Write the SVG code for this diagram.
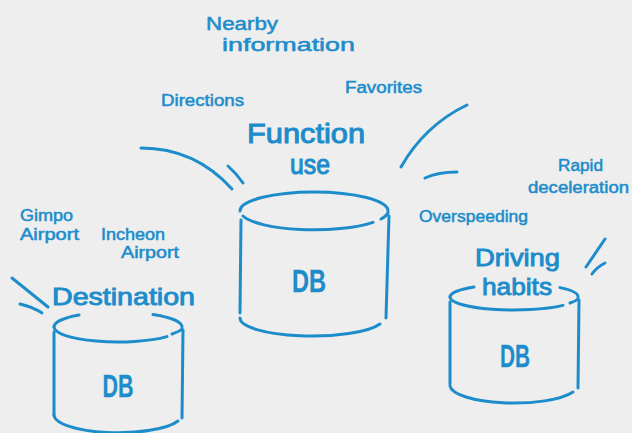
<svg xmlns="http://www.w3.org/2000/svg" width="632" height="433" viewBox="0 0 632 433">
<style>
.s{fill:none;stroke:#1C8CCB;stroke-width:3;stroke-linecap:round}
text{font-family:"Liberation Sans","DejaVu Sans",sans-serif;fill:#1C8CCB;stroke:#1C8CCB;stroke-width:0.5}
.t{font-size:16px}
.h{font-size:24px;stroke-width:0.9}
.big{font-size:28px;stroke-width:1}
.db{font-size:31px;font-weight:bold;stroke-width:0.3}
</style>
<rect width="632" height="433" fill="#EEEEEE"/>
<g id="connectors">
<path class="s" d="M141,148 Q195,148 232,189"/>
<path class="s" d="M228,166 Q237,174 243,183"/>
<path class="s" d="M467,105 Q425,125 401,167"/>
<path class="s" d="M425,178 Q438,172 457,172"/>
<path class="s" d="M12,278 L48,307"/>
<path class="s" d="M20,304 Q33,307 42,313"/>
<path class="s" d="M605,239 L586,267"/>
<path class="s" d="M605,263 Q597,267 592,274"/>
</g>
<g id="labels">
<text class="t" x="206" y="30" textLength="72" lengthAdjust="spacingAndGlyphs" style="font-size:18px">Nearby</text>
<text class="t" x="222" y="51" textLength="133" lengthAdjust="spacingAndGlyphs" style="font-size:18px">information</text>
<text class="t" x="161" y="106" textLength="83" lengthAdjust="spacingAndGlyphs">Directions</text>
<text class="t" x="345" y="93" textLength="77" lengthAdjust="spacingAndGlyphs">Favorites</text>
<text class="t" x="558" y="171" textLength="45" lengthAdjust="spacingAndGlyphs">Rapid</text>
<text class="t" x="528" y="193" textLength="101" lengthAdjust="spacingAndGlyphs">deceleration</text>
<text class="t" x="419" y="222" textLength="109" lengthAdjust="spacingAndGlyphs">Overspeeding</text>
<text class="t" x="20" y="221" textLength="53" lengthAdjust="spacingAndGlyphs">Gimpo</text>
<text class="t" x="20" y="240" textLength="59" lengthAdjust="spacingAndGlyphs">Airport</text>
<text class="t" x="101" y="240" textLength="64" lengthAdjust="spacingAndGlyphs">Incheon</text>
<text class="t" x="121" y="258" textLength="58" lengthAdjust="spacingAndGlyphs">Airport</text>
</g>
<g id="function-use">
<text class="big" x="247" y="143" textLength="118" lengthAdjust="spacingAndGlyphs">Function</text>
<text class="big" x="290" y="174" textLength="40" lengthAdjust="spacingAndGlyphs">use</text>
<path class="s" d="M240,211 A74,19 0 0 1 388,211"/>
<path class="s" d="M373,222.4 A74,19 0 0 1 243,216"/>
<path class="s" d="M388,213 A74,19 0 0 1 381,219"/>
<path class="s" d="M241,220 L240,313"/>
<path class="s" d="M389,216 L386,318"/>
<path class="s" d="M240,318 A72,18 0 0 0 380,324"/>
<text class="db" x="309" y="292" text-anchor="middle" textLength="34" lengthAdjust="spacingAndGlyphs">DB</text>
</g>
<g id="destination">
<text class="h" x="52" y="305" textLength="143" lengthAdjust="spacingAndGlyphs">Destination</text>
<path class="s" d="M54,327 A64,15 0 0 1 79,315"/>
<path class="s" d="M153,314.4 A64,15 0 0 1 182,327"/>
<path class="s" d="M167,336.6 A64,15 0 0 1 54,327"/>
<path class="s" d="M182,329 A64,15 0 0 1 172,334"/>
<path class="s" d="M54,332 L54,415"/>
<path class="s" d="M183,330 L182,418"/>
<path class="s" d="M54,415 A64,18 0 0 0 178,421"/>
<text class="db" x="118" y="397" text-anchor="middle" textLength="31" lengthAdjust="spacingAndGlyphs">DB</text>
</g>
<g id="driving-habits">
<text class="h" x="475" y="266" textLength="85" lengthAdjust="spacingAndGlyphs">Driving</text>
<text class="h" x="482" y="295" textLength="70" lengthAdjust="spacingAndGlyphs">habits</text>
<path class="s" d="M450,297 A64,13 0 0 1 474,287"/>
<path class="s" d="M560,287.6 A64,13 0 0 1 578,297"/>
<path class="s" d="M563,305.4 A64,13 0 0 1 450,297"/>
<path class="s" d="M578,299 A64,13 0 0 1 570,303"/>
<path class="s" d="M450,302 L450,384"/>
<path class="s" d="M579,300 L578,388"/>
<path class="s" d="M450,386 A64,18 0 0 0 573,392"/>
<text class="db" x="515" y="367" text-anchor="middle" textLength="30" lengthAdjust="spacingAndGlyphs">DB</text>
</g>
</svg>
